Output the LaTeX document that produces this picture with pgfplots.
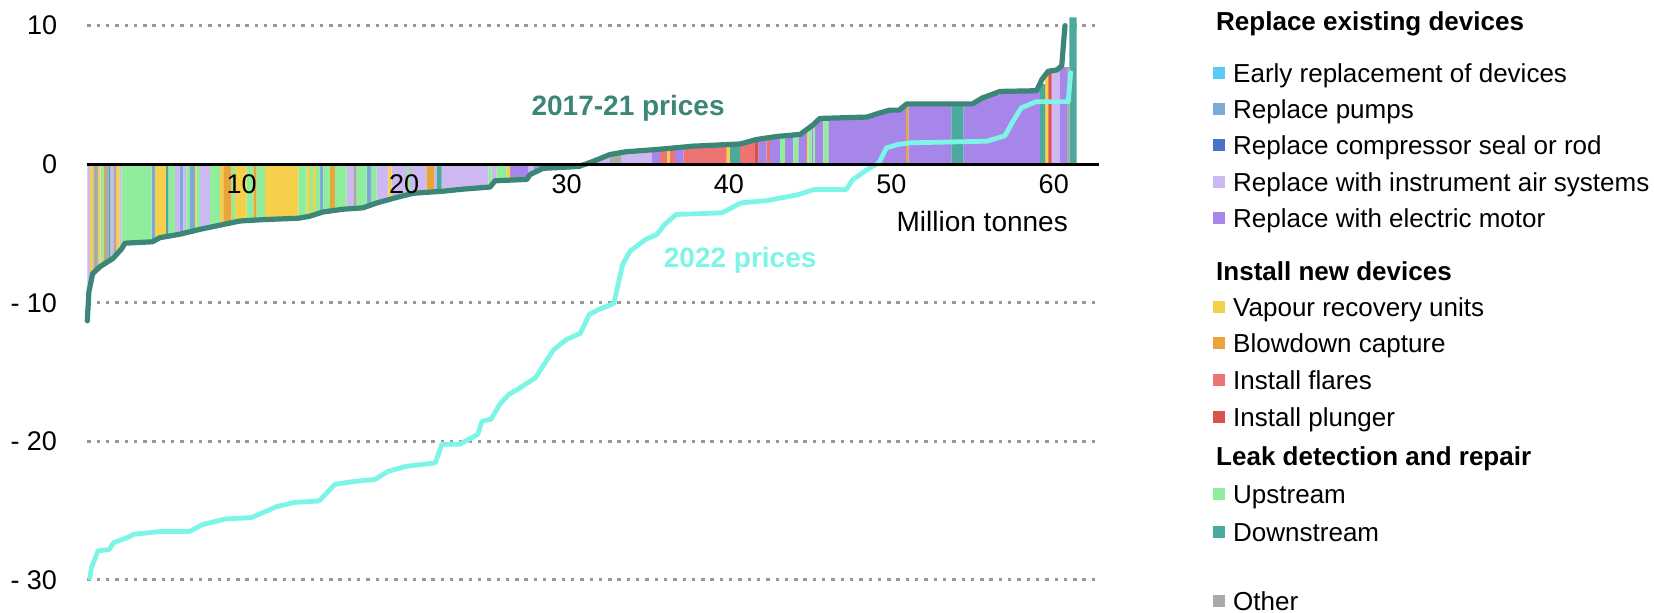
\documentclass[border=0pt]{standalone}
\usepackage{fontspec}
\setmainfont{Liberation Sans}
\usepackage{pgfplots}
\usepackage{pgfplotstable}
\pgfplotsset{compat=1.18}
\pgfplotsset{
  layers/mylayers/.define layer set={
    axis background,axis grid,main,axis ticks,axis lines,axis tick labels,axis descriptions,axis foreground
  }{/pgfplots/layers/standard},
}
\definecolor{c1}{HTML}{5BCBF5}
\definecolor{c2}{HTML}{7AA9DA}
\definecolor{c3}{HTML}{4672C8}
\definecolor{c4}{HTML}{CDB8F2}
\definecolor{c5}{HTML}{A686E8}
\definecolor{c6}{HTML}{F6D04D}
\definecolor{c7}{HTML}{E9A43A}
\definecolor{c8}{HTML}{EE7474}
\definecolor{c9}{HTML}{D9534E}
\definecolor{c10}{HTML}{90ED9C}
\definecolor{c11}{HTML}{4BAA9D}
\definecolor{c12}{HTML}{AAAAAA}
\definecolor{lineA}{HTML}{3B8676}
\definecolor{lineB}{HTML}{7DF5E6}

% segments: start x, height (2017-21 cost), category
\pgfplotstableread{
x h c
0.00 -10.0 4
0.17 -8.3 6
0.37 -7.7 12
0.68 -7.45 6
0.82 -7.35 10
0.99 -7.2 7
1.09 -7.1 12
1.30 -7.0 11
1.40 -6.9 4
1.60 -6.75 12
1.77 -6.55 6
1.97 -6.3 4
2.12 -5.9 10
2.30 -5.6 10
3.96 -5.55 2
4.17 -5.3 6
4.85 -5.2 11
4.99 -5.15 10
5.40 -5.07 4
5.71 -5.0 2
5.91 -4.95 4
6.12 -4.9 10
6.32 -4.85 2
6.63 -4.78 6
6.73 -4.75 10
6.94 -4.62 4
7.56 -4.48 10
8.17 -4.38 6
8.38 -4.3 7
8.89 -4.23 10
9.09 -4.13 6
9.81 -4.08 10
10.22 -4.04 7
10.43 -4.02 10
10.94 -3.95 6
12.99 -3.85 10
13.51 -3.78 6
13.71 -3.72 10
13.90 -3.65 6
14.08 -3.55 10
14.33 -3.45 2
14.53 -3.4 10
14.94 -3.35 7
15.25 -3.27 10
15.97 -3.23 4
16.38 -3.2 12
16.59 -3.12 10
17.20 -3.0 2
17.51 -2.9 10
17.82 -2.7 4
18.54 -2.55 6
18.74 -2.35 4
19.67 -2.2 10
19.87 -2.1 4
20.90 -2.05 7
21.35 -2.0 4
21.51 -1.98 11
21.82 -1.9 4
23.05 -1.72 4
24.70 -1.55 10
24.90 -1.35 4
25.21 -1.18 10
25.82 -1.15 6
26.03 -1.12 5
27.16 -0.85 4
27.46 -0.6 2
27.80 -0.4 5
28.08 -0.28 5
29.11 -0.22 4
29.52 -0.18 5
30.30 -0.1 5
30.70 0.1 4
31.16 0.45 4
32.19 0.8 12
32.90 0.95 4
34.75 1.05 5
35.27 1.1 8
35.68 1.12 6
35.88 1.15 8
36.19 1.18 5
36.71 1.35 8
39.37 1.42 6
39.58 1.44 11
40.19 1.6 8
41.12 1.78 9
41.32 1.82 5
41.83 1.9 8
42.04 1.95 5
42.66 2.02 10
42.97 2.05 5
43.48 2.1 10
43.79 2.25 5
44.30 2.55 6
44.40 2.7 10
44.60 2.8 5
44.70 2.9 10
44.81 3.2 5
45.32 3.3 10
45.63 3.35 5
48.00 3.55 5
48.80 3.8 5
49.40 3.9 5
50.00 4.2 5
50.41 4.35 7
50.56 4.35 5
53.21 4.35 11
53.94 4.35 5
54.50 4.55 5
55.07 5.0 5
56.20 5.28 5
58.66 5.8 11
58.97 6.4 6
59.18 6.7 9
59.38 6.75 4
59.90 7.0 5
60.31 7.0 12
60.47 10.6 11
60.92 0 0
}\segs

\pgfplotstableread{
x y
0 -11.3
0.1 -9.2
0.33 -7.9
0.78 -7.4
1.58 -6.8
2.12 -6.1
2.32 -5.7
4.0 -5.6
4.48 -5.3
5.71 -5.05
6.94 -4.7
8.17 -4.4
9.4 -4.1
10.82 -4.0
13.0 -3.9
13.71 -3.75
14.51 -3.45
15.74 -3.25
16.97 -3.15
17.82 -2.8
19.05 -2.4
20.06 -2.1
21.9 -1.95
23.14 -1.8
24.8 -1.65
25.1 -1.2
26.03 -1.15
27.06 -1.1
27.26 -0.75
28.06 -0.3
29.72 -0.2
30.3 -0.15
31.14 0.2
32.18 0.7
33.2 0.9
35.06 1.06
37.3 1.3
40.2 1.46
41.2 1.78
42.45 2.0
43.9 2.15
44.3 2.5
44.7 2.85
45.1 3.3
48.0 3.4
48.8 3.7
49.4 3.9
50.0 3.9
50.45 4.35
54.5 4.35
55.07 4.75
56.2 5.25
58.46 5.3
58.77 6.1
59.16 6.7
59.7 6.8
60.0 7.1
60.1 8.6
60.2 10.0
}\curveA

\pgfplotstableread{
x y
0.15 -29.85
0.26 -29.1
0.66 -27.9
1.34 -27.8
1.63 -27.3
2.45 -26.95
2.87 -26.7
4.5 -26.5
6.3 -26.5
7.1 -26.0
8.5 -25.6
10.1 -25.5
11.67 -24.7
12.77 -24.4
14.27 -24.3
15.24 -23.1
16.34 -22.9
17.7 -22.75
18.54 -22.15
19.64 -21.8
21.43 -21.55
21.84 -20.2
22.94 -20.2
24.04 -19.5
24.3 -18.55
24.86 -18.4
25.41 -17.3
25.96 -16.6
26.5 -16.25
27.6 -15.4
28.7 -13.4
29.5 -12.65
30.36 -12.2
30.9 -10.85
31.46 -10.5
32.42 -10.05
32.96 -7.24
33.42 -6.28
34.37 -5.43
35.07 -5.07
35.55 -4.35
36.25 -3.63
39.08 -3.51
40.26 -2.79
41.9 -2.62
43.79 -2.19
44.73 -1.83
46.74 -1.83
47.1 -1.15
48.03 -0.38
48.74 0.1
49.21 1.18
49.92 1.42
50.66 1.54
55.4 1.66
56.5 2.05
57.0 3.1
57.5 4.06
58.4 4.5
60.4 4.5
60.55 6.6
}\curveB

\newcommand{\catplot}[2]{\addplot[const plot, fill=#2, draw=none, forget plot] table[x=x, y expr={ifthenelse(\thisrow{c}==#1,\thisrow{h},0)}]{\segs} \closedcycle;}
\newcommand{\legfont}{\fontsize{13}{15}\selectfont}
\newcommand{\legitem}[4]{%
  \node[fill=#1, minimum size=6pt, inner sep=0pt] at (609.5pt,#2pt) {};
  \node[anchor=base west, inner sep=0pt, font=\legfont] at (616.4pt,#3pt) {#4};}
\newcommand{\leghead}[2]{%
  \node[anchor=base west, inner sep=0pt, font=\legfont\bfseries] at (607.9pt,#1pt) {#2};}

\begin{document}
\begin{tikzpicture}
\begin{axis}[
  set layers=mylayers,
  at={(43.65pt,-290pt)}, anchor=south west,
  scale only axis, width=505.9pt, height=282.75pt,
  xmin=0, xmax=62.3, ymin=-30, ymax=10.8,
  enlargelimits=false, clip=false,
  axis x line=middle, axis y line=left,
  axis line style={draw=none},
  tick style={draw=none},
  xtick={10,20,30,40,50,60},
  xticklabels={10,20,30,40,50,60},
  ytick={-30,-20,-10,0,10},
  yticklabels={- 30,- 20,- 10,0,10},
  ticklabel style={font=\fontsize{13.5}{16}\selectfont},
  xticklabel style={anchor=north, inner sep=0pt, yshift=-3pt, xshift=-4pt},
  yticklabel style={anchor=east, inner sep=0pt, xshift=-12.8pt},
  ymajorgrids,
  grid style={draw=gray!80, line width=1.5pt, dash pattern=on 1.7pt off 2.95pt},
]
\catplot{1}{c1}
\catplot{2}{c2}
\catplot{3}{c3}
\catplot{4}{c4}
\catplot{5}{c5}
\catplot{6}{c6}
\catplot{7}{c7}
\catplot{8}{c8}
\catplot{9}{c9}
\catplot{10}{c10}
\catplot{11}{c11}
\catplot{12}{c12}
\addplot[color=lineA, line width=2.6pt, line join=round, line cap=round] table[x=x,y=y]{\curveA};
\addplot[color=lineB, line width=2.4pt, line join=round, line cap=round] table[x=x,y=y]{\curveB};
\draw[black, line width=1.35pt] (axis cs:0,0) -- (axis cs:62.3,0);
\node[font=\fontsize{14}{16}\selectfont\bfseries, text=lineA] at (axis cs:33.3,4.05) {2017-21 prices};
\node[font=\fontsize{14}{16}\selectfont\bfseries, text=lineB] at (axis cs:40.2,-6.9) {2022 prices};
\node[anchor=east, inner sep=0pt, font=\fontsize{14}{16}\selectfont] at (axis cs:60.4,-4.17) {Million tonnes};
\end{axis}
\leghead{-15.15}{Replace existing devices}
\legitem{c1}{-36.5}{-41.15}{Early replacement of devices}
\legitem{c2}{-54.5}{-59.15}{Replace pumps}
\legitem{c3}{-72.5}{-77.15}{Replace compressor seal or rod}
\legitem{c4}{-91}{-95.65}{Replace with instrument air systems}
\legitem{c5}{-109}{-113.65}{Replace with electric motor}
\leghead{-140.15}{Install new devices}
\legitem{c6}{-153.5}{-158.15}{Vapour recovery units}
\legitem{c7}{-171.5}{-176.15}{Blowdown capture}
\legitem{c8}{-190}{-194.65}{Install flares}
\legitem{c9}{-208.5}{-213.15}{Install plunger}
\leghead{-232.65}{Leak detection and repair}
\legitem{c10}{-247}{-251.65}{Upstream}
\legitem{c11}{-266}{-270.65}{Downstream}
\legitem{c12}{-300.5}{-305.15}{Other}
\pgfresetboundingbox
\path (0pt,0pt) rectangle (827pt,-306.5pt);
\end{tikzpicture}
\end{document}
